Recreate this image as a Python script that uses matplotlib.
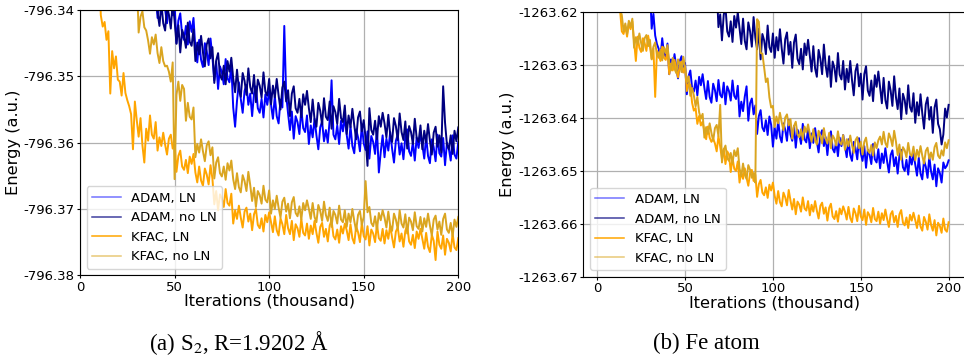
import matplotlib
matplotlib.use("Agg")
import matplotlib.pyplot as plt
from matplotlib import ticker

# iterations (thousand), shared by all curves
ITERS = list(range(1, 201))

# ---- (a) S2 ----  (points above -796.34 lie outside the plotted window)
S2_ADAM_LN = [
    -796.3280, -796.3280, -796.3280, -796.3280, -796.3280, -796.3280, -796.3280, -796.3280, -796.3280, -796.3280,
    -796.3310, -796.3310, -796.3310, -796.3310, -796.3310, -796.3310, -796.3310, -796.3310, -796.3310, -796.3310,
    -796.3340, -796.3340, -796.3340, -796.3340, -796.3340, -796.3340, -796.3340, -796.3340, -796.3340, -796.3340,
    -796.3370, -796.3370, -796.3370, -796.3370, -796.3370, -796.3370, -796.3370, -796.3370, -796.3370, -796.3370,
    -796.3412, -796.3384, -796.3402, -796.3374, -796.3399, -796.3420, -796.3387, -796.3378, -796.3408, -796.3391,
    -796.3450, -796.3416, -796.3405, -796.3438, -796.3445, -796.3424, -796.3452, -796.3417, -796.3433, -796.3412,
    -796.3458, -796.3479, -796.3445, -796.3475, -796.3486, -796.3450, -796.3462, -796.3483, -796.3443, -796.3471,
    -796.3506, -796.3478, -796.3519, -796.3485, -796.3494, -796.3512, -796.3474, -796.3503, -796.3509, -796.3484,
    -796.3547, -796.3576, -796.3537, -796.3509, -796.3534, -796.3555, -796.3522, -796.3513, -796.3543, -796.3526,
    -796.3560, -796.3526, -796.3515, -796.3548, -796.3555, -796.3534, -796.3562, -796.3527, -796.3543, -796.3522,
    -796.3543, -796.3564, -796.3530, -796.3560, -796.3571, -796.3535, -796.3547, -796.3424, -796.3528, -796.3556,
    -796.3581, -796.3553, -796.3594, -796.3560, -796.3569, -796.3587, -796.3549, -796.3578, -796.3584, -796.3559,
    -796.3602, -796.3574, -796.3592, -796.3564, -796.3589, -796.3610, -796.3577, -796.3568, -796.3598, -796.3581,
    -796.3600, -796.3566, -796.3506, -796.3588, -796.3595, -796.3574, -796.3602, -796.3567, -796.3583, -796.3562,
    -796.3588, -796.3609, -796.3575, -796.3605, -796.3616, -796.3580, -796.3592, -796.3613, -796.3573, -796.3601,
    -796.3611, -796.3583, -796.3624, -796.3590, -796.3599, -796.3617, -796.3579, -796.3645, -796.3614, -796.3589,
    -796.3622, -796.3594, -796.3612, -796.3584, -796.3609, -796.3630, -796.3597, -796.3588, -796.3618, -796.3601,
    -796.3625, -796.3591, -796.3580, -796.3613, -796.3620, -796.3599, -796.3627, -796.3592, -796.3608, -796.3587,
    -796.3603, -796.3624, -796.3590, -796.3620, -796.3631, -796.3595, -796.3607, -796.3628, -796.3588, -796.3616,
    -796.3621, -796.3593, -796.3634, -796.3600, -796.3609, -796.3627, -796.3589, -796.3618, -796.3624, -796.3599,
]
S2_ADAM_NOLN = [
    -796.3270, -796.3270, -796.3270, -796.3270, -796.3270, -796.3270, -796.3270, -796.3270, -796.3270, -796.3270,
    -796.3300, -796.3300, -796.3300, -796.3300, -796.3300, -796.3300, -796.3300, -796.3300, -796.3300, -796.3300,
    -796.3330, -796.3330, -796.3330, -796.3330, -796.3330, -796.3330, -796.3330, -796.3330, -796.3330, -796.3330,
    -796.3360, -796.3360, -796.3360, -796.3360, -796.3360, -796.3360, -796.3360, -796.3360, -796.3360, -796.3360,
    -796.3403, -796.3424, -796.3390, -796.3420, -796.3431, -796.3395, -796.3407, -796.3428, -796.3388, -796.3416,
    -796.3451, -796.3423, -796.3464, -796.3430, -796.3439, -796.3457, -796.3419, -796.3448, -796.3454, -796.3429,
    -796.3477, -796.3449, -796.3467, -796.3439, -796.3464, -796.3485, -796.3452, -796.3443, -796.3473, -796.3456,
    -796.3510, -796.3476, -796.3465, -796.3498, -796.3505, -796.3484, -796.3512, -796.3477, -796.3493, -796.3472,
    -796.3503, -796.3524, -796.3490, -796.3520, -796.3531, -796.3495, -796.3507, -796.3528, -796.3488, -796.3516,
    -796.3526, -796.3498, -796.3539, -796.3505, -796.3514, -796.3532, -796.3494, -796.3523, -796.3529, -796.3504,
    -796.3542, -796.3514, -796.3532, -796.3504, -796.3529, -796.3550, -796.3517, -796.3508, -796.3538, -796.3521,
    -796.3560, -796.3526, -796.3515, -796.3548, -796.3555, -796.3534, -796.3562, -796.3527, -796.3543, -796.3522,
    -796.3548, -796.3569, -796.3535, -796.3565, -796.3576, -796.3540, -796.3552, -796.3573, -796.3533, -796.3561,
    -796.3566, -796.3538, -796.3579, -796.3545, -796.3554, -796.3572, -796.3534, -796.3563, -796.3569, -796.3544,
    -796.3587, -796.3559, -796.3577, -796.3549, -796.3574, -796.3595, -796.3562, -796.3553, -796.3583, -796.3566,
    -796.3593, -796.3635, -796.3548, -796.3581, -796.3588, -796.3567, -796.3595, -796.3560, -796.3576, -796.3555,
    -796.3571, -796.3592, -796.3558, -796.3588, -796.3599, -796.3563, -796.3575, -796.3596, -796.3556, -796.3584,
    -796.3596, -796.3568, -796.3609, -796.3575, -796.3584, -796.3602, -796.3564, -796.3593, -796.3599, -796.3574,
    -796.3610, -796.3582, -796.3600, -796.3572, -796.3597, -796.3618, -796.3585, -796.3576, -796.3606, -796.3589,
    -796.3615, -796.3515, -796.3570, -796.3603, -796.3610, -796.3589, -796.3617, -796.3582, -796.3598, -796.3577,
]
S2_KFAC_LN = [
    -796.3330, -796.3330, -796.3330, -796.3330, -796.3330, -796.3330, -796.3330, -796.3330, -796.3330, -796.3330,
    -796.3408, -796.3425, -796.3418, -796.3445, -796.3432, -796.3526, -796.3462, -796.3488, -796.3470, -796.3505,
    -796.3508, -796.3529, -796.3495, -796.3525, -796.3536, -796.3545, -796.3557, -796.3610, -796.3538, -796.3566,
    -796.3591, -796.3563, -796.3604, -796.3630, -796.3579, -796.3597, -796.3559, -796.3588, -796.3594, -796.3569,
    -796.3612, -796.3592, -796.3605, -796.3585, -796.3603, -796.3618, -796.3594, -796.3588, -796.3609, -796.3597,
    -796.3644, -796.3620, -796.3612, -796.3636, -796.3641, -796.3626, -796.3646, -796.3621, -796.3632, -796.3617,
    -796.3645, -796.3660, -796.3636, -796.3657, -796.3665, -796.3639, -796.3648, -796.3663, -796.3634, -796.3654,
    -796.3693, -796.3673, -796.3702, -796.3678, -796.3684, -796.3697, -796.3670, -796.3691, -796.3695, -796.3677,
    -796.3722, -796.3702, -796.3715, -796.3695, -796.3713, -796.3728, -796.3704, -796.3698, -796.3719, -796.3707,
    -796.3732, -796.3708, -796.3700, -796.3724, -796.3729, -796.3714, -796.3734, -796.3709, -796.3720, -796.3705,
    -796.3720, -796.3735, -796.3711, -796.3732, -796.3740, -796.3714, -796.3723, -796.3738, -796.3709, -796.3729,
    -796.3738, -796.3718, -796.3747, -796.3723, -796.3729, -796.3742, -796.3715, -796.3736, -796.3740, -796.3722,
    -796.3745, -796.3725, -796.3738, -796.3718, -796.3736, -796.3751, -796.3727, -796.3721, -796.3742, -796.3730,
    -796.3749, -796.3725, -796.3717, -796.3741, -796.3746, -796.3731, -796.3751, -796.3726, -796.3737, -796.3722,
    -796.3732, -796.3747, -796.3723, -796.3744, -796.3752, -796.3726, -796.3735, -796.3750, -796.3721, -796.3741,
    -796.3746, -796.3726, -796.3755, -796.3731, -796.3737, -796.3750, -796.3723, -796.3744, -796.3748, -796.3730,
    -796.3752, -796.3732, -796.3745, -796.3725, -796.3743, -796.3758, -796.3734, -796.3728, -796.3749, -796.3737,
    -796.3757, -796.3733, -796.3725, -796.3749, -796.3754, -796.3739, -796.3759, -796.3734, -796.3745, -796.3730,
    -796.3745, -796.3760, -796.3736, -796.3757, -796.3765, -796.3739, -796.3748, -796.3777, -796.3734, -796.3754,
    -796.3760, -796.3740, -796.3769, -796.3745, -796.3751, -796.3764, -796.3737, -796.3758, -796.3762, -796.3744,
]
S2_KFAC_NOLN = [
    -796.3280, -796.3280, -796.3280, -796.3280, -796.3280, -796.3280, -796.3280, -796.3280, -796.3280, -796.3280,
    -796.3310, -796.3310, -796.3310, -796.3310, -796.3310, -796.3310, -796.3310, -796.3310, -796.3310, -796.3310,
    -796.3350, -796.3350, -796.3350, -796.3350, -796.3350, -796.3350, -796.3350, -796.3350, -796.3350, -796.3350,
    -796.3434, -796.3410, -796.3402, -796.3426, -796.3431, -796.3446, -796.3466, -796.3441, -796.3452, -796.3437,
    -796.3465, -796.3480, -796.3456, -796.3477, -796.3485, -796.3484, -796.3493, -796.3508, -796.3479, -796.3655,
    -796.3528, -796.3508, -796.3537, -796.3513, -796.3519, -796.3567, -796.3540, -796.3561, -796.3565, -796.3547,
    -796.3622, -796.3602, -796.3615, -796.3595, -796.3613, -796.3628, -796.3604, -796.3598, -796.3619, -796.3607,
    -796.3654, -796.3630, -796.3622, -796.3646, -796.3651, -796.3636, -796.3656, -796.3631, -796.3642, -796.3627,
    -796.3655, -796.3670, -796.3646, -796.3667, -796.3675, -796.3649, -796.3658, -796.3673, -796.3644, -796.3664,
    -796.3688, -796.3668, -796.3697, -796.3673, -796.3679, -796.3692, -796.3665, -796.3686, -796.3690, -796.3672,
    -796.3707, -796.3687, -796.3700, -796.3680, -796.3698, -796.3713, -796.3689, -796.3683, -796.3704, -796.3692,
    -796.3714, -796.3690, -796.3682, -796.3706, -796.3711, -796.3696, -796.3716, -796.3691, -796.3702, -796.3687,
    -796.3700, -796.3715, -796.3691, -796.3712, -796.3720, -796.3694, -796.3703, -796.3718, -796.3689, -796.3709,
    -796.3718, -796.3698, -796.3727, -796.3703, -796.3709, -796.3722, -796.3695, -796.3716, -796.3720, -796.3702,
    -796.3727, -796.3707, -796.3720, -796.3700, -796.3718, -796.3733, -796.3709, -796.3703, -796.3724, -796.3712,
    -796.3658, -796.3705, -796.3697, -796.3721, -796.3726, -796.3711, -796.3731, -796.3706, -796.3717, -796.3702,
    -796.3713, -796.3728, -796.3704, -796.3725, -796.3733, -796.3707, -796.3716, -796.3731, -796.3702, -796.3722,
    -796.3728, -796.3708, -796.3737, -796.3713, -796.3719, -796.3732, -796.3705, -796.3726, -796.3730, -796.3712,
    -796.3734, -796.3714, -796.3727, -796.3707, -796.3725, -796.3740, -796.3716, -796.3710, -796.3731, -796.3719,
    -796.3739, -796.3715, -796.3707, -796.3731, -796.3736, -796.3721, -796.3741, -796.3716, -796.3727, -796.3712,
]

# ---- (b) Fe atom ----  (points above -1263.62 lie outside the plotted window)
FE_ADAM_LN = [
    -1263.6050, -1263.6050, -1263.6050, -1263.6050, -1263.6050, -1263.6050, -1263.6050, -1263.6050, -1263.6050, -1263.6050,
    -1263.6100, -1263.6100, -1263.6100, -1263.6100, -1263.6100, -1263.6100, -1263.6100, -1263.6100, -1263.6100, -1263.6100,
    -1263.6150, -1263.6150, -1263.6150, -1263.6150, -1263.6150, -1263.6150, -1263.6150, -1263.6150, -1263.6150, -1263.6150,
    -1263.6231, -1263.6203, -1263.6244, -1263.6260, -1263.6269, -1263.6287, -1263.6249, -1263.6278, -1263.6284, -1263.6259,
    -1263.6317, -1263.6289, -1263.6307, -1263.6279, -1263.6304, -1263.6325, -1263.6292, -1263.6283, -1263.6313, -1263.6296,
    -1263.6355, -1263.6321, -1263.6310, -1263.6343, -1263.6350, -1263.6329, -1263.6357, -1263.6322, -1263.6338, -1263.6317,
    -1263.6343, -1263.6364, -1263.6330, -1263.6360, -1263.6371, -1263.6335, -1263.6347, -1263.6368, -1263.6328, -1263.6356,
    -1263.6361, -1263.6333, -1263.6374, -1263.6340, -1263.6349, -1263.6367, -1263.6329, -1263.6358, -1263.6364, -1263.6339,
    -1263.6397, -1263.6369, -1263.6387, -1263.6359, -1263.6340, -1263.6405, -1263.6372, -1263.6363, -1263.6393, -1263.6376,
    -1263.6430, -1263.6396, -1263.6385, -1263.6418, -1263.6425, -1263.6404, -1263.6432, -1263.6397, -1263.6413, -1263.6454,
    -1263.6418, -1263.6439, -1263.6405, -1263.6435, -1263.6446, -1263.6410, -1263.6422, -1263.6443, -1263.6403, -1263.6431,
    -1263.6443, -1263.6415, -1263.6456, -1263.6422, -1263.6431, -1263.6449, -1263.6411, -1263.6440, -1263.6446, -1263.6421,
    -1263.6457, -1263.6429, -1263.6447, -1263.6419, -1263.6444, -1263.6465, -1263.6432, -1263.6423, -1263.6453, -1263.6436,
    -1263.6470, -1263.6436, -1263.6425, -1263.6458, -1263.6465, -1263.6444, -1263.6472, -1263.6437, -1263.6453, -1263.6432,
    -1263.6453, -1263.6474, -1263.6440, -1263.6470, -1263.6481, -1263.6445, -1263.6457, -1263.6478, -1263.6438, -1263.6466,
    -1263.6481, -1263.6453, -1263.6494, -1263.6460, -1263.6469, -1263.6487, -1263.6449, -1263.6478, -1263.6484, -1263.6459,
    -1263.6495, -1263.6467, -1263.6485, -1263.6457, -1263.6482, -1263.6503, -1263.6470, -1263.6461, -1263.6491, -1263.6474,
    -1263.6505, -1263.6471, -1263.6460, -1263.6493, -1263.6500, -1263.6479, -1263.6507, -1263.6472, -1263.6488, -1263.6467,
    -1263.6488, -1263.6509, -1263.6475, -1263.6505, -1263.6516, -1263.6480, -1263.6492, -1263.6513, -1263.6473, -1263.6501,
    -1263.6516, -1263.6488, -1263.6529, -1263.6495, -1263.6504, -1263.6522, -1263.6484, -1263.6495, -1263.6490, -1263.6480,
]
FE_ADAM_NOLN = [
    -1263.6000, -1263.6000, -1263.6000, -1263.6000, -1263.6000, -1263.6000, -1263.6000, -1263.6000, -1263.6000, -1263.6000,
    -1263.6000, -1263.6000, -1263.6000, -1263.6000, -1263.6000, -1263.6000, -1263.6000, -1263.6000, -1263.6000, -1263.6000,
    -1263.6050, -1263.6050, -1263.6050, -1263.6050, -1263.6050, -1263.6050, -1263.6050, -1263.6050, -1263.6050, -1263.6050,
    -1263.6050, -1263.6050, -1263.6050, -1263.6050, -1263.6050, -1263.6050, -1263.6050, -1263.6050, -1263.6050, -1263.6050,
    -1263.6100, -1263.6100, -1263.6100, -1263.6100, -1263.6100, -1263.6100, -1263.6100, -1263.6100, -1263.6100, -1263.6100,
    -1263.6100, -1263.6100, -1263.6100, -1263.6100, -1263.6100, -1263.6100, -1263.6100, -1263.6100, -1263.6100, -1263.6100,
    -1263.6150, -1263.6150, -1263.6150, -1263.6150, -1263.6150, -1263.6150, -1263.6150, -1263.6150, -1263.6228, -1263.6204,
    -1263.6253, -1263.6205, -1263.6190, -1263.6236, -1263.6246, -1263.6217, -1263.6256, -1263.6207, -1263.6229, -1263.6200,
    -1263.6230, -1263.6260, -1263.6212, -1263.6254, -1263.6270, -1263.6219, -1263.6236, -1263.6265, -1263.6209, -1263.6248,
    -1263.6270, -1263.6231, -1263.6289, -1263.6241, -1263.6253, -1263.6279, -1263.6225, -1263.6266, -1263.6275, -1263.6240,
    -1263.6286, -1263.6247, -1263.6272, -1263.6232, -1263.6268, -1263.6297, -1263.6251, -1263.6238, -1263.6280, -1263.6256,
    -1263.6305, -1263.6257, -1263.6242, -1263.6288, -1263.6298, -1263.6269, -1263.6308, -1263.6259, -1263.6281, -1263.6252,
    -1263.6282, -1263.6312, -1263.6264, -1263.6306, -1263.6322, -1263.6271, -1263.6288, -1263.6317, -1263.6261, -1263.6300,
    -1263.6322, -1263.6283, -1263.6341, -1263.6293, -1263.6305, -1263.6331, -1263.6277, -1263.6318, -1263.6327, -1263.6292,
    -1263.6346, -1263.6307, -1263.6332, -1263.6292, -1263.6328, -1263.6357, -1263.6311, -1263.6298, -1263.6340, -1263.6316,
    -1263.6365, -1263.6317, -1263.6302, -1263.6348, -1263.6358, -1263.6329, -1263.6368, -1263.6319, -1263.6341, -1263.6312,
    -1263.6342, -1263.6372, -1263.6324, -1263.6366, -1263.6382, -1263.6331, -1263.6348, -1263.6377, -1263.6321, -1263.6360,
    -1263.6383, -1263.6344, -1263.6402, -1263.6354, -1263.6366, -1263.6392, -1263.6338, -1263.6379, -1263.6388, -1263.6353,
    -1263.6409, -1263.6370, -1263.6395, -1263.6355, -1263.6391, -1263.6420, -1263.6374, -1263.6361, -1263.6403, -1263.6379,
    -1263.6428, -1263.6380, -1263.6365, -1263.6411, -1263.6421, -1263.6450, -1263.6431, -1263.6382, -1263.6399, -1263.6375,
]
FE_KFAC_LN = [
    -1263.6100, -1263.6100, -1263.6100, -1263.6100, -1263.6100, -1263.6100, -1263.6100, -1263.6100, -1263.6100, -1263.6100,
    -1263.6160, -1263.6180, -1263.6195, -1263.6236, -1263.6241, -1263.6226, -1263.6246, -1263.6221, -1263.6232, -1263.6217,
    -1263.6255, -1263.6292, -1263.6246, -1263.6267, -1263.6275, -1263.6249, -1263.6258, -1263.6273, -1263.6244, -1263.6264,
    -1263.6288, -1263.6268, -1263.6360, -1263.6273, -1263.6279, -1263.6292, -1263.6265, -1263.6286, -1263.6290, -1263.6272,
    -1263.6317, -1263.6297, -1263.6310, -1263.6290, -1263.6308, -1263.6323, -1263.6299, -1263.6293, -1263.6314, -1263.6302,
    -1263.6349, -1263.6335, -1263.6337, -1263.6371, -1263.6386, -1263.6381, -1263.6411, -1263.6396, -1263.6414, -1263.6407,
    -1263.6425, -1263.6440, -1263.6416, -1263.6437, -1263.6445, -1263.6439, -1263.6448, -1263.6463, -1263.6434, -1263.6454,
    -1263.6478, -1263.6458, -1263.6487, -1263.6463, -1263.6469, -1263.6502, -1263.6475, -1263.6496, -1263.6500, -1263.6482,
    -1263.6522, -1263.6502, -1263.6515, -1263.6495, -1263.6513, -1263.6528, -1263.6504, -1263.6498, -1263.6519, -1263.6507,
    -1263.6549, -1263.6525, -1263.6517, -1263.6541, -1263.6546, -1263.6531, -1263.6551, -1263.6526, -1263.6537, -1263.6522,
    -1263.6547, -1263.6562, -1263.6538, -1263.6559, -1263.6567, -1263.6541, -1263.6550, -1263.6565, -1263.6536, -1263.6556,
    -1263.6573, -1263.6553, -1263.6582, -1263.6558, -1263.6564, -1263.6577, -1263.6550, -1263.6571, -1263.6575, -1263.6557,
    -1263.6584, -1263.6564, -1263.6577, -1263.6557, -1263.6575, -1263.6590, -1263.6566, -1263.6560, -1263.6581, -1263.6569,
    -1263.6594, -1263.6570, -1263.6562, -1263.6586, -1263.6591, -1263.6576, -1263.6596, -1263.6571, -1263.6582, -1263.6567,
    -1263.6577, -1263.6592, -1263.6568, -1263.6589, -1263.6597, -1263.6571, -1263.6580, -1263.6595, -1263.6566, -1263.6586,
    -1263.6593, -1263.6573, -1263.6602, -1263.6578, -1263.6584, -1263.6597, -1263.6570, -1263.6591, -1263.6595, -1263.6577,
    -1263.6600, -1263.6580, -1263.6593, -1263.6573, -1263.6591, -1263.6606, -1263.6582, -1263.6576, -1263.6597, -1263.6585,
    -1263.6606, -1263.6582, -1263.6574, -1263.6598, -1263.6603, -1263.6588, -1263.6608, -1263.6583, -1263.6594, -1263.6579,
    -1263.6593, -1263.6608, -1263.6584, -1263.6605, -1263.6613, -1263.6587, -1263.6596, -1263.6611, -1263.6582, -1263.6602,
    -1263.6613, -1263.6593, -1263.6622, -1263.6598, -1263.6604, -1263.6617, -1263.6590, -1263.6611, -1263.6615, -1263.6597,
]
FE_KFAC_NOLN = [
    -1263.6120, -1263.6120, -1263.6120, -1263.6120, -1263.6120, -1263.6120, -1263.6120, -1263.6120, -1263.6120, -1263.6120,
    -1263.6170, -1263.6185, -1263.6195, -1263.6205, -1263.6236, -1263.6221, -1263.6241, -1263.6216, -1263.6227, -1263.6212,
    -1263.6267, -1263.6247, -1263.6260, -1263.6240, -1263.6258, -1263.6273, -1263.6249, -1263.6243, -1263.6264, -1263.6252,
    -1263.6289, -1263.6265, -1263.6257, -1263.6281, -1263.6286, -1263.6271, -1263.6291, -1263.6266, -1263.6277, -1263.6262,
    -1263.6295, -1263.6310, -1263.6286, -1263.6307, -1263.6315, -1263.6289, -1263.6298, -1263.6313, -1263.6284, -1263.6304,
    -1263.6333, -1263.6321, -1263.6358, -1263.6343, -1263.6357, -1263.6378, -1263.6360, -1263.6389, -1263.6401, -1263.6392,
    -1263.6437, -1263.6417, -1263.6430, -1263.6410, -1263.6428, -1263.6443, -1263.6419, -1263.6413, -1263.6434, -1263.6375,
    -1263.6484, -1263.6460, -1263.6452, -1263.6476, -1263.6481, -1263.6466, -1263.6486, -1263.6461, -1263.6472, -1263.6457,
    -1263.6495, -1263.6510, -1263.6486, -1263.6507, -1263.6515, -1263.6489, -1263.6498, -1263.6513, -1263.6504, -1263.6522,
    -1263.6213, -1263.6218, -1263.6277, -1263.6278, -1263.6304, -1263.6332, -1263.6325, -1263.6361, -1263.6380, -1263.6377,
    -1263.6417, -1263.6397, -1263.6410, -1263.6390, -1263.6408, -1263.6423, -1263.6399, -1263.6393, -1263.6414, -1263.6402,
    -1263.6439, -1263.6415, -1263.6407, -1263.6431, -1263.6436, -1263.6421, -1263.6441, -1263.6416, -1263.6427, -1263.6412,
    -1263.6430, -1263.6445, -1263.6421, -1263.6442, -1263.6450, -1263.6424, -1263.6433, -1263.6448, -1263.6419, -1263.6439,
    -1263.6448, -1263.6428, -1263.6457, -1263.6433, -1263.6439, -1263.6452, -1263.6425, -1263.6446, -1263.6450, -1263.6432,
    -1263.6460, -1263.6440, -1263.6453, -1263.6433, -1263.6451, -1263.6466, -1263.6442, -1263.6436, -1263.6457, -1263.6445,
    -1263.6469, -1263.6445, -1263.6437, -1263.6461, -1263.6466, -1263.6451, -1263.6471, -1263.6446, -1263.6457, -1263.6442,
    -1263.6435, -1263.6450, -1263.6426, -1263.6447, -1263.6455, -1263.6429, -1263.6438, -1263.6453, -1263.6424, -1263.6444,
    -1263.6470, -1263.6450, -1263.6479, -1263.6455, -1263.6461, -1263.6474, -1263.6447, -1263.6468, -1263.6472, -1263.6454,
    -1263.6480, -1263.6460, -1263.6473, -1263.6453, -1263.6471, -1263.6486, -1263.6462, -1263.6456, -1263.6477, -1263.6465,
    -1263.6479, -1263.6455, -1263.6447, -1263.6471, -1263.6476, -1263.6461, -1263.6471, -1263.6446, -1263.6457, -1263.6442,
]

LABELS = ["ADAM, LN", "ADAM, no LN", "KFAC, LN", "KFAC, no LN"]
COLORS = ["blue", "navy", "orange", "goldenrod"]
S2_TICKS = [-796.38, -796.37, -796.36, -796.35, -796.34]
FE_TICKS = [-1263.67, -1263.66, -1263.65, -1263.64, -1263.63, -1263.62]


def draw(ax, series, yticks, xlim):
    for vals, name, col in zip(series, LABELS, COLORS):
        ax.plot(ITERS, vals, color=col, linewidth=1.4, label=name)
    ax.set_xlim(*xlim)
    ax.set_ylim(yticks[0], yticks[-1])
    ax.set_yticks(yticks)
    ax.set_xticks([0, 50, 100, 150, 200])
    ax.yaxis.set_major_formatter(ticker.FormatStrFormatter("%.2f"))
    ax.tick_params(labelsize=9.5, length=2.5, pad=1.5)
    ax.grid(True, color="#b0b0b0", linewidth=0.9)
    ax.set_xlabel("Iterations (thousand)", fontsize=11.7, labelpad=0)
    ax.set_ylabel("Energy (a.u.)", fontsize=11.7, labelpad=2)
    leg = ax.legend(loc="lower left", fontsize=9.5, handlelength=2.2)
    for h, a in zip(leg.get_lines(), [0.55, 0.75, 1.0, 0.6]):
        h.set_alpha(a)
        h.set_linewidth(1.1)


def main():
    fig = plt.figure(figsize=(9.64, 3.56), dpi=100)
    ax1 = fig.add_axes([0.083, 0.2267, 0.3924, 0.7452])
    ax2 = fig.add_axes([0.6051, 0.2228, 0.397, 0.7426])

    draw(ax1, [S2_ADAM_LN, S2_ADAM_NOLN, S2_KFAC_LN, S2_KFAC_NOLN], S2_TICKS, (0, 200))
    draw(ax2, [FE_ADAM_LN, FE_ADAM_NOLN, FE_KFAC_LN, FE_KFAC_NOLN], FE_TICKS, (-7.9, 209.9))

    plt.rcParams["mathtext.fontset"] = "stix"
    fig.text(239 / 964, 1 - 343 / 356, r"(a) S$_2$, R=1.9202 Å", ha="center", va="center",
             fontsize=16.5, family="Liberation Serif")
    fig.text(706 / 964, 1 - 343 / 356, "(b) Fe atom", ha="center", va="center",
             fontsize=16.5, family="Liberation Serif")

    fig.savefig("out.png", dpi=100)


if __name__ == "__main__":
    main()
